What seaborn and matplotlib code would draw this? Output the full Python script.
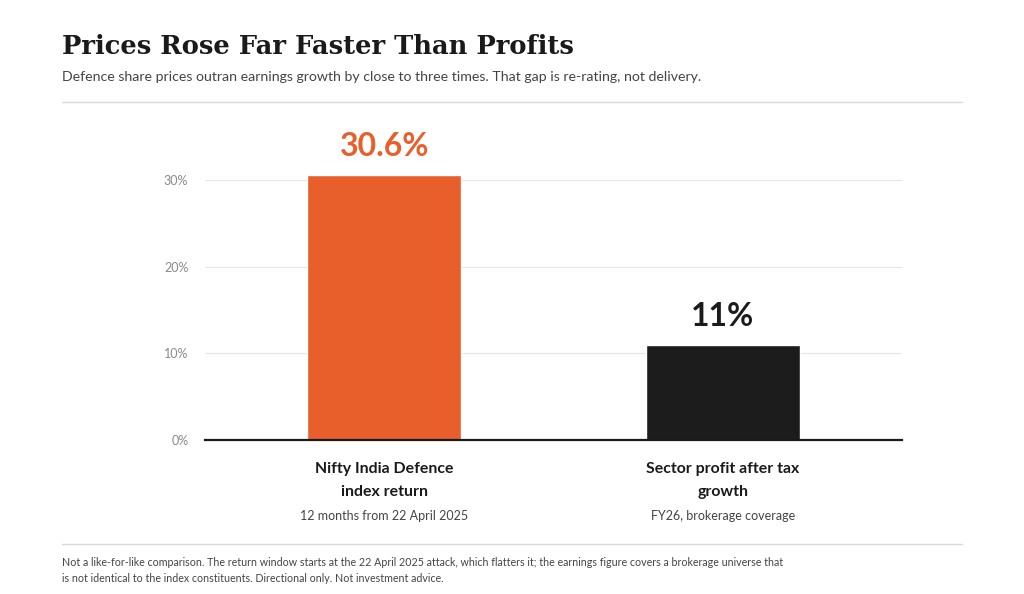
import matplotlib
matplotlib.use("Agg")
import matplotlib.pyplot as plt
import seaborn as sns
import pandas as pd

categories = ["Nifty India Defence\nindex return", "Sector profit after tax\ngrowth"]
sublabels = ["12 months from 22 April 2025", "FY26, brokerage coverage"]
values = [30.6, 11.0]
value_labels = ["30.6%", "11%"]
colors = ["#E85F2C", "#1C1C1C"]
yticks = [0, 10, 20, 30]
ytick_labels = ["0%", "10%", "20%", "30%"]

sns.set_theme(style="white")
plt.rcParams['font.family'] = ['Lato', 'DejaVu Sans']

W, H = 1024, 594
fig = plt.figure(figsize=(W / 100, H / 100), dpi=100)
fig.patch.set_facecolor("white")

def fx(px):
    return px / W

def fy(py):
    return 1 - py / H

ax_left, ax_right = 205, 902
y0, y30 = 440, 180
ymax = 35
ytop = y0 - (y0 - y30) / 30 * ymax
ax = fig.add_axes([fx(ax_left), fy(y0), fx(ax_right - ax_left), (y0 - ytop) / H])

df = pd.DataFrame({"category": categories, "value": values})
sns.barplot(data=df, x="category", y="value", hue="category", palette=colors,
            width=0.456, ax=ax, legend=False, saturation=1)

ax.set_xlim(-0.53, 1.53)
ax.set_ylim(0, ymax)
ax.set_yticks(yticks)
ax.set_yticklabels(ytick_labels, color="#8a8a8a", fontsize=9)
ax.tick_params(axis="y", length=0, pad=12)
ax.set_xticks([])
ax.set_xlabel("")
ax.set_ylabel("")
for s in ["top", "right", "left"]:
    ax.spines[s].set_visible(False)
ax.spines["bottom"].set_color("#1a1a1a")
ax.spines["bottom"].set_linewidth(1.6)
ax.yaxis.grid(True, color="#e6e6e6", linewidth=0.8)
ax.set_axisbelow(True)

for i, (v, lab, c) in enumerate(zip(values, value_labels, colors)):
    ax.text(i, v + 1.6, lab, ha="center", va="bottom", fontsize=23,
            fontweight="bold", color=c)

for i, (cat, sub) in enumerate(zip(categories, sublabels)):
    ax.annotate(cat, xy=(i, 0), xycoords="data", xytext=(0, -22),
                textcoords="offset pixels", ha="center", va="top",
                fontsize=11.4, fontweight="bold", color="#1a1a1a", linespacing=1.8)
    ax.annotate(sub, xy=(i, 0), xycoords="data", xytext=(0, -70),
                textcoords="offset pixels", ha="center", va="top",
                fontsize=9, color="#444444")

fig.text(fx(62), fy(46), "Prices Rose Far Faster Than Profits", fontsize=18.5,
         fontweight="bold", family="DejaVu Serif", color="#1a1a1a", va="center", ha="left")
fig.text(fx(62), fy(77), "Defence share prices outran earnings growth by close to three times. That gap is re-rating, not delivery.",
         fontsize=10.2, color="#444444", va="center", ha="left")

fig.add_artist(plt.Line2D([fx(62), fx(962)], [fy(102), fy(102)], color="#d9d9d9", linewidth=1))
fig.add_artist(plt.Line2D([fx(62), fx(962)], [fy(544), fy(544)], color="#d9d9d9", linewidth=1))

fig.text(fx(62), fy(562), "Not a like-for-like comparison. The return window starts at the 22 April 2025 attack, which flatters it; the earnings figure covers a brokerage universe that",
         fontsize=7.7, color="#444444", va="center", ha="left")
fig.text(fx(62), fy(578), "is not identical to the index constituents. Directional only. Not investment advice.",
         fontsize=7.7, color="#444444", va="center", ha="left")

fig.savefig("out.png", dpi=100, facecolor="white")
